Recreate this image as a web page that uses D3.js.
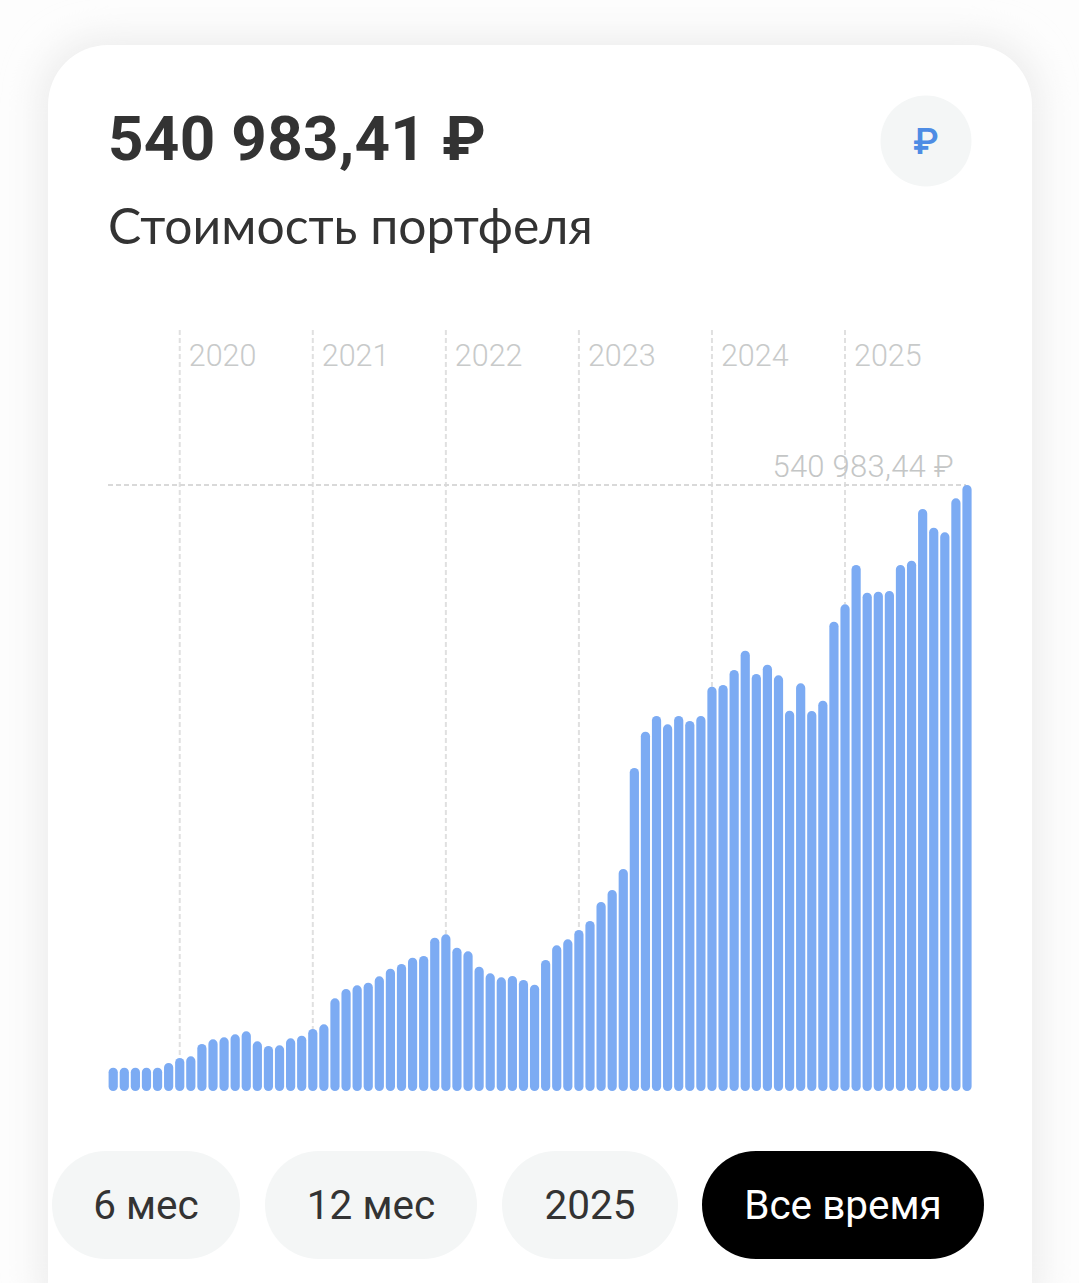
<!DOCTYPE html>
<html lang="ru"><head><meta charset="utf-8">
<script src="https://cdn.jsdelivr.net/npm/d3@7"></script>
<style>html,body{margin:0;padding:0;background:#fff;overflow:hidden}svg{display:block}</style>
</head><body><div id="chart"></div>
<script>
const values = [20800,20800,20800,20800,20800,25000,29460,30980,41960,46150,47940,50620,53290,44370,40170,40800,47050,49370,55350,59540,82750,91060,94360,96680,102390,109180,113370,119000,120510,136850,139890,127920,124710,110960,105070,101500,102660,99090,94900,116940,130070,135420,143730,151760,168720,179430,198180,288340,320750,334760,327350,334760,330300,334760,360920,362440,375830,393050,372260,380560,371100,339500,363950,339230,348420,418950,434480,469560,444840,445730,446350,469560,473400,519550,502860,498750,529100,540983.44];
const yearLabels = ["2020","2021","2022","2023","2024","2025"];
const yearStartIndex = [6,18,30,42,54,66];
const maxLabel = "540 983,44 ₽";
const titleText = "540 983,41 ₽";
const subtitleText = "Стоимость портфеля";
const periods = ["6 мес","12 мес","2025","Все время"];

const W=1079,H=1283;
const svg=d3.select("#chart").append("svg").attr("width",W).attr("height",H).attr("viewBox",[0,0,W,H]);
const defs=svg.append("defs");
const f=defs.append("filter").attr("id","sh").attr("x","-10%").attr("y","-10%").attr("width","120%").attr("height","120%");
f.append("feGaussianBlur").attr("stdDeviation",18);

svg.append("rect").attr("width",W).attr("height",H).attr("fill","#fdfdfd");
svg.append("rect").attr("x",40).attr("y",38).attr("width",1000).attr("height",1300).attr("rx",62).attr("fill","#ececec").attr("filter","url(#sh)");
svg.append("rect").attr("x",48).attr("y",45).attr("width",984).attr("height",1300).attr("rx",60).attr("fill","#ffffff");

const font="Roboto, sans-serif";
svg.append("text").attr("x",108).attr("y",160).attr("font-family",font).attr("font-weight",700).attr("font-size",62).attr("fill","#333333").attr("letter-spacing",0.3).text(titleText);
svg.append("text").attr("x",108).attr("y",244).attr("font-family","Lato, sans-serif").attr("font-weight",400).attr("font-size",49.8).attr("fill","#333333").text(subtitleText);

svg.append("circle").attr("cx",926).attr("cy",141).attr("r",45.5).attr("fill","#f4f6f6");
svg.append("text").attr("x",926).attr("y",154).attr("text-anchor","middle").attr("font-family",font).attr("font-weight",500).attr("font-size",37).attr("fill","#4e8ce4").text("₽");

const x=d3.scaleBand().domain(d3.range(values.length)).range([108.6,971.6]).paddingInner(0.17).paddingOuter(0);
const y=d3.scaleLinear().domain([0,d3.max(values)]).range([1091,485]);
const cx=i=>x(i)+x.bandwidth()/2;

const grid=svg.append("g");
grid.selectAll("line").data(yearStartIndex).join("line")
  .attr("x1",d=>cx(d)).attr("x2",d=>cx(d)).attr("y1",330).attr("y2",d=>y(values[d]))
  .attr("stroke","#e0e0e0").attr("stroke-width",2).attr("stroke-dasharray","5 3");
svg.append("line").attr("x1",108).attr("x2",966).attr("y1",y(d3.max(values))).attr("y2",y(d3.max(values)))
  .attr("stroke","#d9d9d9").attr("stroke-width",2).attr("stroke-dasharray","5 3");

svg.append("g").selectAll("text").data(yearStartIndex).join("text")
  .attr("x",d=>cx(d)+9).attr("y",366).attr("font-family",font).attr("font-weight",300).attr("font-size",30.5).attr("fill","#c8caca")
  .text((d,i)=>yearLabels[i]);
svg.append("text").attr("x",954).attr("y",477).attr("text-anchor","end").attr("font-family",font).attr("font-weight",300).attr("font-size",31).attr("letter-spacing",0.25).attr("fill","#c4c6c6").text(maxLabel);

svg.append("g").selectAll("path").data(values).join("path")
  .attr("fill","#7cabf3")
  .attr("d",(d,i)=>{const l=x(i),w=x.bandwidth(),r=w/2,t=y(d),b=y(0);
    return `M${l},${b-r}L${l},${t+r}A${r},${r} 0 0 1 ${l+w},${t+r}L${l+w},${b-r}A${r},${r} 0 0 1 ${l},${b-r}Z`;});

const btnX=[52,265,502,702],btnW=[188,212,176,282];
const btns=svg.append("g").selectAll("g").data(periods).join("g");
btns.append("rect").attr("x",(d,i)=>btnX[i]).attr("y",1151).attr("width",(d,i)=>btnW[i]).attr("height",108).attr("rx",54)
  .attr("fill",(d,i)=>i===3?"#000":"#f4f6f6");
btns.append("text").attr("x",(d,i)=>btnX[i]+btnW[i]/2).attr("y",1219).attr("text-anchor","middle")
  .attr("font-family",font).attr("font-size",40.5).attr("font-weight",400).attr("fill",(d,i)=>i===3?"#fff":"#333").text(d=>d);
</script></body></html>
